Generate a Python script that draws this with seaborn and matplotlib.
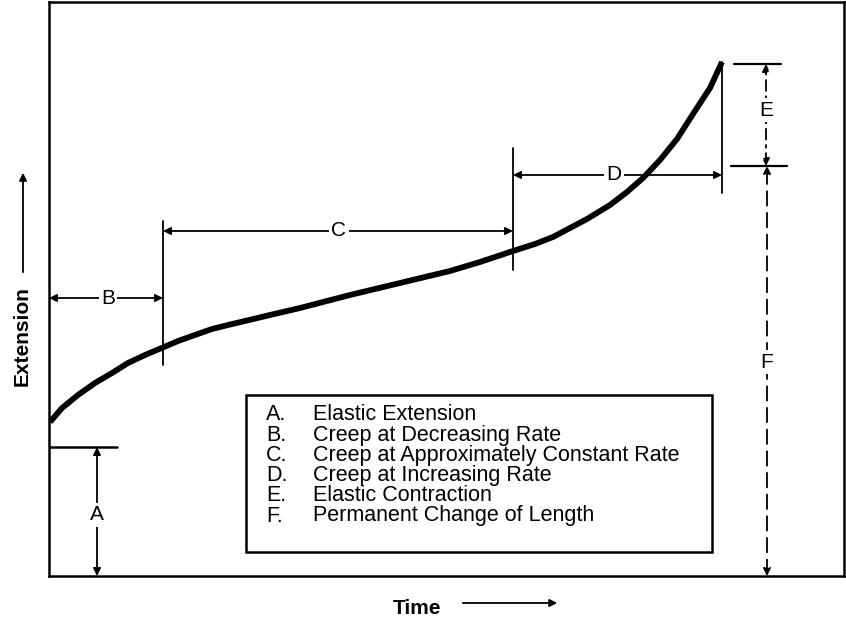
import matplotlib
matplotlib.use("Agg")
import matplotlib.pyplot as plt
from matplotlib.patches import Rectangle, FancyArrowPatch
import pandas as pd
import seaborn as sns

sns.set_style("white")
plt.rcParams["font.family"] = ["Liberation Sans", "DejaVu Sans"]
plt.rcParams["text.color"] = "black"

# ---------------------------------------
# Data (read off the reference; y measured upward from the x axis)
# ---------------------------------------
curve_x = [50, 62, 78, 95, 112, 128, 145, 164, 178, 195, 212, 228, 245,
           270, 300, 350, 400, 450, 480, 513, 535, 553, 570, 587, 610,
           627, 643, 660, 677, 693, 710, 722]
curve_y = [154, 168, 181, 193, 203, 213, 221, 229, 235, 241, 247, 251, 255,
           261, 268, 281, 293, 305, 314, 325, 332, 339, 348, 357, 371,
           384, 398, 416, 437, 462, 488, 514]

# stage boundaries on the time axis: start, end of B, end of C, end of D
stage_x = [49, 163, 513, 722]
elastic_ext = 129       # height of A
permanent_change = 410  # height of F (E runs from here to the curve end)

stage_letters = ["A.", "B.", "C.", "D.", "E.", "F."]
stage_names = [
    "Elastic Extension",
    "Creep at Decreasing Rate",
    "Creep at Approximately Constant Rate",
    "Creep at Increasing Rate",
    "Elastic Contraction",
    "Permanent Change of Length",
]

W, H = 846, 619
FS = 15
LEG_FS = 15.5
fig = plt.figure(figsize=(W / 100, H / 100), dpi=100)
ax = fig.add_axes([49 / W, (H - 576) / H, (844 - 49) / W, (576 - 2) / H])
ax.set_xlim(49, 844)
ax.set_ylim(0, 574)

df = pd.DataFrame({"t": curve_x, "ext": curve_y})
sns.lineplot(data=df, x="t", y="ext", ax=ax, color="black", lw=4.2,
             solid_capstyle="butt", solid_joinstyle="round", sort=False)

ax.set_xticks([])
ax.set_yticks([])
ax.set_xlabel("")
ax.set_ylabel("")
for s in ax.spines.values():
    s.set_linewidth(1.8)
    s.set_color("black")

LW = 1.3
ARR = dict(arrowstyle="<|-|>", color="black", lw=LW, mutation_scale=11,
           shrinkA=0, shrinkB=0)
TXT = dict(fontsize=FS, ha="center", va="center", zorder=5,
           bbox=dict(facecolor="white", edgecolor="none", pad=1.5))

x0, xb, xc, xd = stage_x
top = curve_y[-1]

# A
ax.plot([x0, 117], [elastic_ext, elastic_ext], color="black", lw=1.8)
ax.annotate("", xy=(97, elastic_ext), xytext=(97, 0), arrowprops=ARR)
ax.text(97, 61, "A", **TXT)

# B
ax.plot([xb, xb], [211, 355], color="black", lw=LW)
ax.annotate("", xy=(x0, 278), xytext=(xb, 278), arrowprops=ARR)
ax.text(108, 278, "B", **TXT)

# C
ax.plot([xc, xc], [306, 428], color="black", lw=LW)
ax.annotate("", xy=(xb, 345), xytext=(xc, 345), arrowprops=ARR)
ax.text(339, 345, "C", **TXT)

# D
ax.plot([xd, xd], [383, top], color="black", lw=LW)
ax.annotate("", xy=(xc, 401), xytext=(xd, 401), arrowprops=ARR)
ax.text(614, 401, "D", **TXT)

# E
ax.plot([734, 781], [512, 512], color="black", lw=1.6)
ax.plot([731, 787], [permanent_change, permanent_change], color="black", lw=1.6)
ax.annotate("", xy=(766, 512), xytext=(766, permanent_change),
            arrowprops=dict(ARR, linestyle=(0, (6, 3, 1.5, 3))))
ax.text(766, 466, "E", **TXT)

# F
ax.annotate("", xy=(767, permanent_change), xytext=(767, 0),
            arrowprops=dict(ARR, linestyle=(0, (8, 4))))
ax.text(767, 214, "F", **TXT)

# legend box
ax.add_patch(Rectangle((246, 24), 712 - 246, 181 - 24, fill=False,
                       edgecolor="black", lw=1.8, zorder=4))
for i, (letter, name) in enumerate(zip(stage_letters, stage_names)):
    y = 161 - i * 20.2
    ax.text(266, y, letter, fontsize=LEG_FS, ha="left", va="center")
    ax.text(313, y, name, fontsize=LEG_FS, ha="left", va="center")

# axis titles with arrows
fig.text(22 / W, 1 - 336 / H, "Extension", rotation=90, fontsize=FS,
         fontweight="bold", ha="center", va="center")
fig.add_artist(FancyArrowPatch(
    (23 / W, 1 - 275 / H), (23 / W, 1 - 170 / H), transform=fig.transFigure,
    arrowstyle="-|>", mutation_scale=11, color="black", lw=LW))
fig.text(417 / W, 1 - 608 / H, "Time", fontsize=FS, fontweight="bold",
         ha="center", va="center")
fig.add_artist(FancyArrowPatch(
    (460 / W, 1 - 603 / H), (560 / W, 1 - 603 / H), transform=fig.transFigure,
    arrowstyle="-|>", mutation_scale=11, color="black", lw=LW))

fig.savefig("out.png", dpi=100)
